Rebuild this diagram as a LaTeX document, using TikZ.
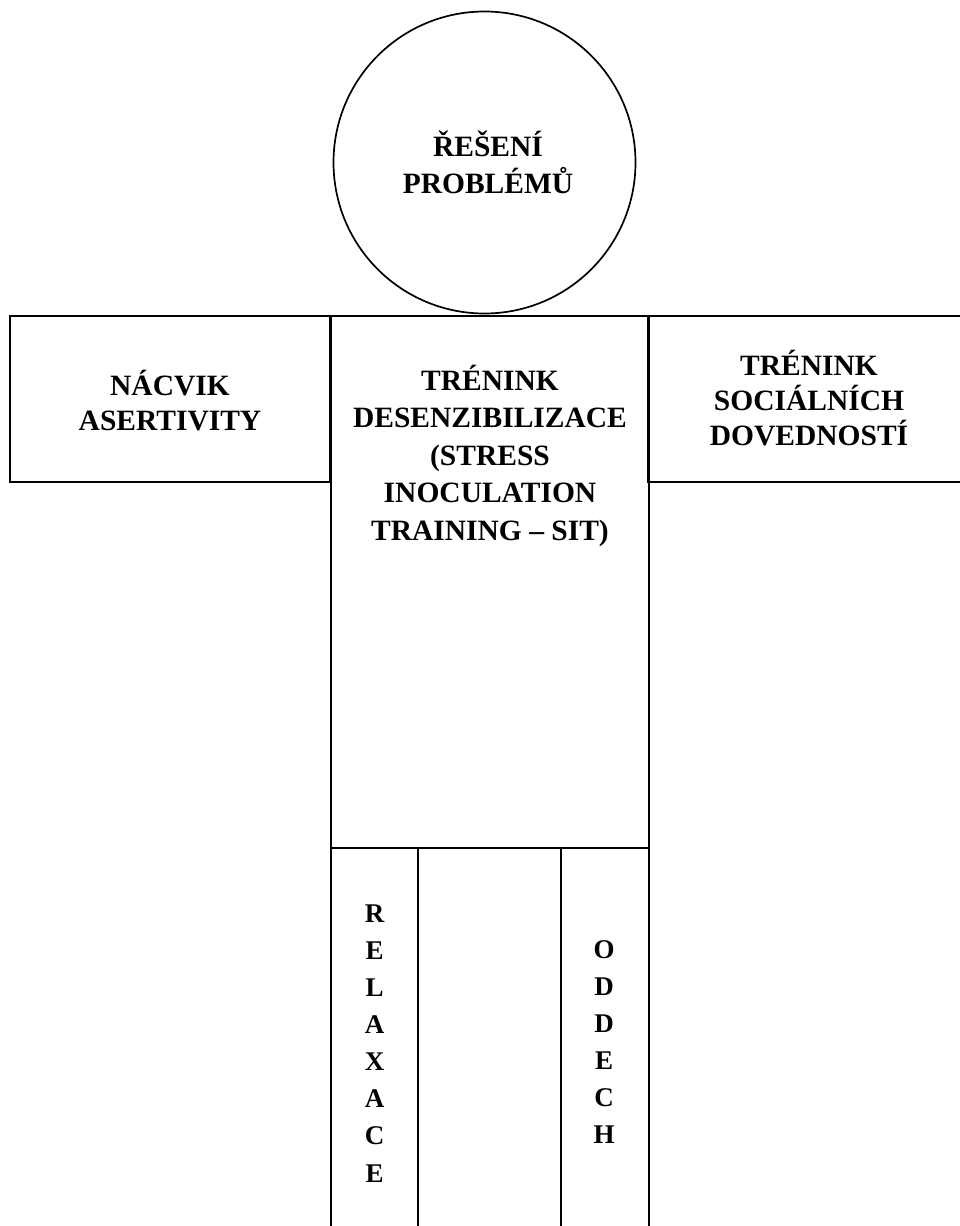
\documentclass[tikz,border=0pt]{standalone}
\usepackage{fontspec}
\setmainfont{Liberation Serif}
\begin{document}
\begin{tikzpicture}[x=1pt,y=-1pt,
  boxline/.style={draw=black,line width=2.2pt,rectangle,inner sep=0pt,outer sep=0pt},
  lbl/.style={inner sep=0pt,align=center,anchor=base},
  bigfont/.style={font=\fontsize{29.5}{#1}\selectfont\bfseries},
]
\useasboundingbox (0,0) rectangle (959,1226);
% head
\node[draw=black,line width=1.7pt,circle,minimum size=302pt,inner sep=0pt] (head) at (484.5,162.5) {};
% arms and body
\node[boxline,minimum width=320pt,minimum height=166pt] (leftarm) at (170,399) {};
\node[boxline,minimum width=327pt,minimum height=166pt] (rightarm) at (811.5,399) {};
\node[boxline,minimum width=318pt,minimum height=532pt] (body) at (490,582) {};
% legs
\node[boxline,minimum width=87pt,minimum height=400pt,anchor=north west] (legL) at (331,848) {};
\node[boxline,minimum width=143pt,minimum height=400pt,anchor=north west] (legM) at (418,848) {};
\node[boxline,minimum width=88pt,minimum height=400pt,anchor=north west] (legR) at (561,848) {};
% labels (anchor base = baseline of the last line)
\node[lbl,bigfont=37] (tHead) at (488,193) {ŘEŠENÍ\\PROBLÉMŮ};
\node[lbl,bigfont=35] (tLeft) at (170,430) {NÁCVIK\\ASERTIVITY};
\node[lbl,bigfont=37.5] (tBody) at (490,540) {TRÉNINK\\DESENZIBILIZACE\\(STRESS\\INOCULATION\\TRAINING – SIT)};
\node[lbl,bigfont=35] (tRight) at (809,445) {TRÉNINK\\SOCIÁLNÍCH\\DOVEDNOSTÍ};
\node[lbl,font=\fontsize{27}{37.1}\selectfont\bfseries] (tRel) at (374.5,1182) {R\\E\\L\\A\\X\\A\\C\\E};
\node[lbl,font=\fontsize{27}{37}\selectfont\bfseries] (tOdd) at (604,1143) {O\\D\\D\\E\\C\\H};
\end{tikzpicture}
\end{document}
